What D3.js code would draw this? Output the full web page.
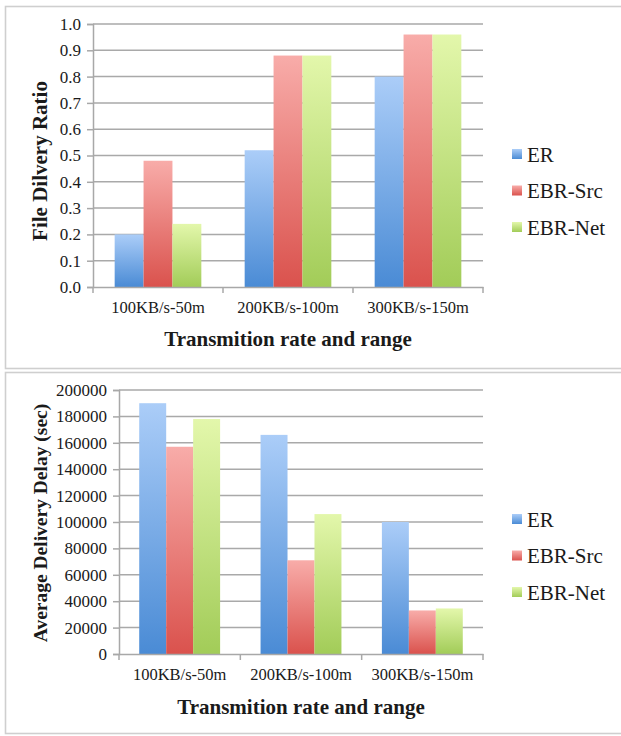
<!DOCTYPE html>
<html>
<head>
<meta charset="utf-8">
<script src="https://cdnjs.cloudflare.com/ajax/libs/d3/7.8.5/d3.min.js"></script>
<style>
  html, body { margin: 0; padding: 0; background: #fff; }
  svg { display: block; }
  svg text { font-family: "Liberation Serif", "Times New Roman", serif; fill: #1a1a1a; }
</style>
</head>
<body>
<svg id="chart" width="621" height="736"></svg>
<script>
// Categories and series
const categories = ["100KB/s-50m", "200KB/s-100m", "300KB/s-150m"];
const seriesNames = ["ER", "EBR-Src", "EBR-Net"];

// File delivery ratio per series
const ratioER  = [0.20, 0.52, 0.80];
const ratioSrc = [0.48, 0.88, 0.96];
const ratioNet = [0.24, 0.88, 0.96];
const ratioTicks = [0, 0.1, 0.2, 0.3, 0.4, 0.5, 0.6, 0.7, 0.8, 0.9, 1.0];

// Average delivery delay (sec) per series
const delayER  = [190000, 166000, 100000];
const delaySrc = [157000, 71000, 33000];
const delayNet = [178000, 106000, 34500];
const delayTicks = [0, 20000, 40000, 60000, 80000, 100000, 120000, 140000, 160000, 180000, 200000];

const xTitle = "Transmition rate and range";

// Bar gradients: light at the top, darker at the base
const palette = {
  "ER":      ["#abcdf8", "#4a8bd5"],
  "EBR-Src": ["#f8aca9", "#da524d"],
  "EBR-Net": ["#e3f7ab", "#a2cc58"]
};

const serif = "'Liberation Serif', 'Times New Roman', serif";

const svg = d3.select("#chart");
const defs = svg.append("defs");
seriesNames.forEach((s, i) => {
  const g = defs.append("linearGradient")
    .attr("id", "grad" + i)
    .attr("x1", 0).attr("y1", 0).attr("x2", 0).attr("y2", 1);
  g.append("stop").attr("offset", "0%").attr("stop-color", palette[s][0]);
  g.append("stop").attr("offset", "100%").attr("stop-color", palette[s][1]);
});

function drawPanel(cfg) {
  const root = svg.append("g").style("font-family", serif);

  // panel frame
  root.append("rect")
    .attr("x", cfg.frame[0]).attr("y", cfg.frame[1])
    .attr("width", cfg.frame[2]).attr("height", cfg.frame[3])
    .attr("fill", "none").attr("stroke", "#cfcfcf").attr("stroke-width", 1.6);

  const x0 = d3.scaleBand().domain(categories).range([cfg.left, cfg.right]).padding(0);
  const x1 = d3.scaleBand().domain(seriesNames).range([0, x0.bandwidth()])
    .paddingInner(0).paddingOuter(0.75);
  const y = d3.scaleLinear().domain(cfg.domain).range([cfg.bottom, cfg.top]);

  // horizontal gridlines
  root.append("g").selectAll("line").data(cfg.ticks.slice(1)).join("line")
    .attr("x1", cfg.left).attr("x2", cfg.right)
    .attr("y1", d => y(d)).attr("y2", d => y(d))
    .attr("stroke", "#a9a9a9").attr("stroke-width", 1.5);

  // bars
  const rows = categories.map((c, i) => ({
    cat: c,
    vals: seriesNames.map((s, k) => ({ s, k, v: cfg.series[k][i] }))
  }));
  root.append("g").selectAll("g").data(rows).join("g")
    .attr("transform", d => `translate(${x0(d.cat)},0)`)
    .selectAll("rect").data(d => d.vals).join("rect")
    .attr("x", d => x1(d.s))
    .attr("width", x1.bandwidth())
    .attr("y", d => y(d.v))
    .attr("height", d => y(cfg.domain[0]) - y(d.v))
    .attr("fill", d => `url(#grad${d.k})`);

  // y axis
  const yAxis = root.append("g")
    .attr("transform", `translate(${cfg.left},0)`)
    .call(d3.axisLeft(y).tickValues(cfg.ticks).tickFormat(cfg.fmt).tickSize(6).tickPadding(6));
  yAxis.attr("font-family", serif);
  yAxis.select(".domain").attr("stroke", "#a8a8a8").attr("stroke-width", 1.5);
  yAxis.selectAll(".tick line").attr("stroke", "#a8a8a8").attr("stroke-width", 1.5);
  yAxis.selectAll(".tick text")
    .style("font-family", serif)
    .attr("font-size", 17).attr("fill", "#222");

  // x axis
  const xAxis = root.append("g")
    .attr("transform", `translate(0,${cfg.bottom})`)
    .call(d3.axisBottom(x0).tickSize(0).tickPadding(14));
  xAxis.attr("font-family", serif);
  xAxis.select(".domain").attr("stroke", "#a8a8a8").attr("stroke-width", 1.5);
  xAxis.selectAll(".tick text")
    .style("font-family", serif)
    .attr("font-size", 16.5).attr("fill", "#222");
  // category boundary ticks
  const bounds = categories.map(c => x0(c)).concat([cfg.right]);
  root.append("g").selectAll("line").data(bounds).join("line")
    .attr("x1", d => d).attr("x2", d => d)
    .attr("y1", cfg.bottom).attr("y2", cfg.bottom + 6)
    .attr("stroke", "#a8a8a8").attr("stroke-width", 1.5);

  // axis titles
  root.append("text")
    .attr("x", (cfg.left + cfg.right) / 2).attr("y", cfg.xTitleY)
    .attr("text-anchor", "middle")
    .style("font-family", serif)
    .attr("font-size", 21).attr("font-weight", "bold")
    .text(xTitle);
  root.append("text")
    .attr("transform", `translate(${cfg.yTitle[0]},${cfg.yTitle[1]}) rotate(-90)`)
    .attr("text-anchor", "middle").attr("dominant-baseline", "central")
    .style("font-family", serif)
    .attr("font-size", cfg.yTitleSize).attr("font-weight", "bold")
    .text(cfg.yLabel);

  // legend
  const leg = root.append("g").selectAll("g").data(seriesNames).join("g")
    .attr("transform", (d, i) => `translate(512,${cfg.legendY + i * 36.5})`);
  leg.append("rect")
    .attr("x", 0).attr("y", -5).attr("width", 10).attr("height", 10)
    .attr("fill", (d, i) => `url(#grad${i})`);
  leg.append("text")
    .attr("x", 15).attr("y", 7.5)
    .style("font-family", serif)
    .attr("font-size", 21)
    .text(d => d);
}

drawPanel({
  frame: [5.5, 6.5, 640, 362],
  left: 93, right: 483, top: 24, bottom: 287,
  domain: [0, 1], ticks: ratioTicks, fmt: d3.format(".1f"),
  series: [ratioER, ratioSrc, ratioNet],
  xTitleY: 346, yTitle: [40, 161], yTitleSize: 21,
  yLabel: "File Dilvery Ratio",
  legendY: 154
});

drawPanel({
  frame: [5.5, 372.5, 640, 361],
  left: 119, right: 483, top: 390, bottom: 654,
  domain: [0, 200000], ticks: delayTicks, fmt: d3.format("d"),
  series: [delayER, delaySrc, delayNet],
  xTitleY: 714, yTitle: [40, 523], yTitleSize: 19.5,
  yLabel: "Average Delivery Delay (sec)",
  legendY: 519
});
</script>
</body>
</html>
